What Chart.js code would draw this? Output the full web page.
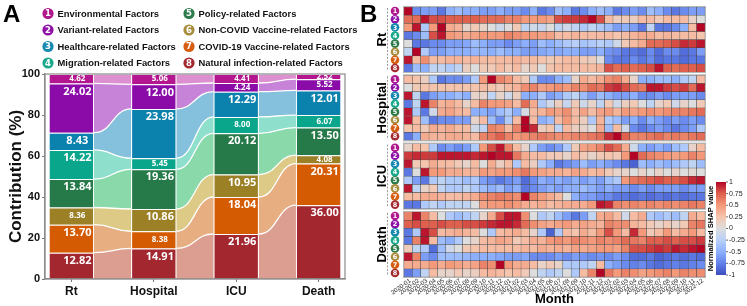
<!DOCTYPE html>
<html>
<head>
<meta charset="utf-8">
<script src="https://cdn.jsdelivr.net/npm/chart.js@4.4.0/dist/chart.umd.min.js"></script>
<style>
  html, body { margin: 0; padding: 0; background: #fff; }
  #wrap { position: relative; width: 747px; height: 306px; overflow: hidden; }
  #panelA { position: absolute; left: 0; top: 0; }
  #panelB { position: absolute; left: 360px; top: 0; }
</style>
</head>
<body>
<div id="wrap">
  <canvas id="panelA" width="360" height="306"></canvas>
  <canvas id="panelB" width="387" height="306"></canvas>
</div>
<script>
// ---- Panel A: contribution (%) of each factor group per outcome ----
const outcomes = ['Rt', 'Hospital', 'ICU', 'Death'];
const factorNames = [
    'Environmental Factors', 'Variant-related Factors', 'Healthcare-related Factors',
    'Migration-related Factors', 'Policy-related Factors', 'Non-COVID Vaccine-related Factors',
    'COVID-19 Vaccine-related Factors', 'Natural infection-related Factors'
];
const environmental = [4.62, 5.06, 4.41, 2.52];
const variant = [24.02, 12.00, 4.24, 5.52];
const healthcare = [8.43, 23.98, 12.29, 12.01];
const migration = [14.22, 5.45, 8.00, 6.07];
const policy = [13.84, 19.36, 20.12, 13.50];
const nonCovidVaccine = [8.36, 10.86, 10.95, 4.08];
const covidVaccine = [13.70, 8.38, 18.04, 20.31];
const naturalInfection = [12.82, 14.91, 21.96, 36.00];
const contributionTicks = [0, 20, 40, 60, 80, 100];

// ---- Panel B: normalized SHAP value per month, rows = factor 1..8 ----
const months = [
    '2020-01', '2020-02', '2020-03', '2020-04', '2020-05', '2020-06', '2020-07', '2020-08', '2020-09', '2020-10', '2020-11', '2020-12',
    '2021-01', '2021-02', '2021-03', '2021-04', '2021-05', '2021-06', '2021-07', '2021-08', '2021-09', '2021-10', '2021-11', '2021-12',
    '2022-01', '2022-02', '2022-03', '2022-04', '2022-05', '2022-06', '2022-07', '2022-08', '2022-09', '2022-10', '2022-11', '2022-12'
];
const rtShap = [
    [1.0,-0.7,-0.6,-0.6,-0.8,-0.5,-0.4,-0.5,-0.5,-0.6,-0.6,-0.5,-0.6,-0.6,-0.7,-0.5,-0.8,-0.7,-0.4,-0.5,-0.8,-0.7,-0.5,-0.4,-0.5,-0.8,-0.7,-0.6,-0.7,-0.4,-0.5,-0.7,-0.8,-0.7,-0.6,-0.6],
    [0.7,0.7,0.95,0.8,0.8,0.75,0.75,0.75,0.75,0.7,0.7,0.7,0.6,0.6,0.5,0.5,0.5,0.45,0.8,0.85,0.85,0.9,1.0,0.8,0.3,0.15,0.2,0.15,0.3,0.3,0.2,0.3,0.3,0.3,0.1,0.0],
    [0.5,0.95,-0.3,0.5,1.0,0.4,0.35,0.1,0.2,0.1,0.0,-0.1,0.0,0.2,-0.2,-0.1,-0.15,0.0,-0.2,-0.1,-0.2,-0.3,-0.2,-0.3,-0.4,-0.6,-0.5,-0.6,-0.8,-0.2,-0.8,-0.8,-0.7,-0.5,0.3,1.0],
    [-0.8,-0.7,-0.4,0.8,0.95,0.5,0.45,0.4,0.45,0.5,0.5,0.5,0.6,0.55,0.5,0.5,0.45,0.45,0.3,0.3,0.35,0.3,0.3,0.3,0.3,0.25,0.3,0.35,0.4,0.4,0.3,0.35,0.3,0.3,0.3,0.25],
    [0.0,-0.8,-0.8,-0.7,-0.7,-0.6,-0.6,-0.55,-0.4,-0.5,-0.6,-0.6,-0.7,-0.6,-0.5,-0.6,-0.4,-0.5,-0.4,-0.3,-0.25,-0.35,-0.3,-0.25,-0.3,-0.1,0.2,0.3,0.4,0.7,0.7,0.75,0.8,0.9,0.85,0.95],
    [-0.2,1.0,-0.3,-0.6,-0.6,-0.5,-0.5,-0.5,-0.45,-0.45,-0.5,-0.4,-0.5,-0.5,-0.6,-0.6,-0.55,-0.5,-0.55,-0.5,-0.5,-0.6,-0.6,-0.5,-0.65,-0.7,-0.8,-0.8,-0.85,-0.7,-0.85,-0.7,-0.7,-0.85,-0.8,-0.6],
    [0.95,0.3,0.55,0.3,0.3,0.35,0.35,0.3,0.35,0.3,0.3,0.3,0.3,0.35,0.3,0.3,0.25,0.2,0.25,0.3,0.3,0.2,0.15,0.0,-0.7,-0.8,-0.8,-0.7,-0.8,-0.7,-0.85,-0.8,-0.8,-0.85,-0.8,-0.8],
    [-0.8,-0.4,-0.5,-0.2,-0.2,-0.3,-0.2,0.15,0.0,0.2,0.2,0.3,0.2,0.3,0.1,0.2,0.0,0.25,0.3,0.3,0.3,0.3,0.3,0.35,0.8,0.7,0.75,0.7,0.75,0.8,0.95,0.75,0.7,0.75,0.75,0.8]
];
const hospitalShap = [
    [0.3,0.25,0.15,-0.3,-0.8,-0.7,-0.7,-0.6,-0.3,0.5,1.0,0.6,0.5,0.3,0.2,-0.3,-0.7,-0.7,-0.5,-0.4,0.1,0.4,0.3,0.4,0.55,0.6,0.4,0.1,-0.5,-0.5,-0.4,-0.4,-0.5,-0.3,-0.2,0.3],
    [0.0,0.2,0.25,0.25,0.25,0.25,0.25,0.25,0.25,0.3,0.25,0.2,0.3,0.35,0.55,0.6,0.45,0.5,0.55,0.5,0.6,0.55,0.7,0.65,0.85,0.9,0.8,0.7,0.65,0.95,0.95,0.85,0.8,0.85,0.7,0.95],
    [0.95,-0.2,-0.8,-0.6,-0.5,-0.5,-0.4,-0.5,0.1,0.1,-0.2,0.1,-0.1,0.15,-0.5,-0.5,-0.3,-0.6,-0.5,-0.3,-0.2,-0.4,-0.6,-0.4,-0.5,-0.6,-0.6,-0.5,-0.7,-0.7,-0.6,-0.7,-0.6,-0.6,-0.6,-0.7],
    [-0.8,-0.2,0.95,0.6,0.35,0.4,0.3,0.1,0.3,0.6,0.5,0.5,0.45,0.3,0.7,0.4,-0.3,-0.1,0.15,-0.15,0.2,-0.1,0.1,-0.2,0.2,-0.1,0.15,0.2,0.0,-0.2,0.1,0.2,-0.1,0.1,0.0,0.2],
    [0.95,-0.3,-0.8,-0.1,0.4,0.45,0.35,0.3,-0.5,-0.5,-0.6,-0.4,-0.3,-0.5,-0.05,0.3,0.35,0.5,0.45,0.55,0.3,0.45,0.3,0.45,0.5,0.35,0.5,0.45,0.5,0.55,0.5,0.55,0.6,0.6,0.65,0.7],
    [0.95,0.3,-0.4,-0.8,-0.7,-0.7,-0.6,-0.6,0.1,0.3,-0.4,-0.7,-0.3,0.3,1.0,0.3,-0.5,-0.4,0.3,0.5,0.3,0.15,-0.3,0.35,-0.3,-0.4,-0.6,-0.5,-0.7,-0.5,-0.6,-0.7,-0.6,-0.7,-0.6,-0.7],
    [0.25,0.3,0.2,0.4,0.35,0.4,0.3,0.3,-0.1,-0.2,0.6,0.55,0.3,0.6,1.0,0.9,0.15,0.25,-0.2,0.3,0.15,0.1,0.0,0.4,-0.4,0.3,-0.1,-0.7,-0.8,-0.7,-0.6,-0.7,-0.8,-0.7,-0.6,-0.3],
    [-0.8,-0.5,0.4,0.35,0.35,0.4,0.4,0.35,0.3,0.6,0.65,0.75,0.6,0.5,0.55,0.6,0.65,0.6,0.55,0.55,0.6,0.6,0.65,0.7,0.9,1.0,0.75,0.6,0.6,0.65,0.7,0.6,0.65,0.6,0.65,0.7]
];
const icuShap = [
    [0.1,0.3,0.25,-0.3,-0.7,-0.6,-0.7,-0.6,-0.3,0.5,0.8,0.95,0.6,0.3,0.1,-0.3,-0.6,-0.7,-0.6,-0.3,0.2,0.45,0.5,0.6,0.8,0.7,0.4,-0.1,-0.5,-0.6,-0.5,-0.6,-0.4,-0.3,0.1,0.3],
    [0.85,0.9,0.85,0.85,0.95,0.95,0.95,0.95,0.9,0.95,1.0,0.95,0.95,0.65,0.4,0.3,0.3,0.2,0.2,0.1,0.3,0.2,0.1,0.2,0.25,0.2,0.5,1.0,0.7,0.6,0.55,0.5,0.45,0.5,0.6,0.5],
    [0.95,0.2,0.25,0.4,0.3,0.3,0.2,0.1,0.3,0.0,0.4,0.15,0.3,-0.3,0.3,0.15,-0.3,-0.5,-0.8,-0.7,-0.6,-0.4,-0.6,-0.5,-0.6,-0.7,-0.8,-0.9,-0.4,-0.5,-0.4,-0.5,-0.4,-0.3,-0.2,-0.4],
    [-0.8,0.0,0.95,0.5,0.5,0.4,0.4,0.35,0.35,0.5,0.45,0.5,0.5,0.55,0.65,0.5,0.45,0.4,0.4,0.35,0.45,0.4,0.3,0.35,0.2,0.1,0.1,0.0,0.1,0.0,0.1,0.0,0.1,0.0,0.05,0.0],
    [-0.3,-0.6,-0.8,-0.3,-0.2,-0.3,-0.3,-0.4,-0.3,-0.6,-0.7,-0.8,-0.7,-0.6,-0.85,-0.7,-0.5,-0.6,-0.5,-0.6,-0.5,-0.6,-0.5,-0.6,-0.4,-0.3,0.5,0.65,0.7,0.75,0.8,0.75,0.75,0.8,0.9,0.95],
    [0.95,-0.2,0.1,0.2,-0.2,-0.3,-0.3,-0.2,-0.3,-0.4,-0.5,-0.4,-0.6,-0.5,-0.8,-0.7,-0.6,-0.5,-0.6,-0.5,-0.5,-0.4,-0.5,-0.6,-0.5,-0.6,-0.6,-0.7,-0.6,-0.7,-0.6,-0.6,-0.6,-0.7,-0.6,-0.6],
    [0.3,0.3,0.4,0.4,0.35,0.3,0.3,0.35,0.4,0.55,0.6,0.65,0.6,0.55,1.0,0.6,0.5,0.4,0.3,0.0,-0.5,-0.6,-0.6,-0.7,-0.7,-0.8,-0.8,-0.85,-0.8,-0.85,-0.8,-0.85,-0.8,-0.85,-0.8,-0.8],
    [-0.8,-0.8,-0.3,-0.2,-0.3,-0.2,-0.2,-0.2,0.0,0.45,0.5,0.5,0.55,0.5,0.4,0.35,0.4,0.3,0.35,0.4,0.4,0.4,0.5,0.95,0.9,0.6,0.55,0.6,0.55,0.6,0.55,0.6,0.55,0.6,0.65,0.6]
];
const deathShap = [
    [0.6,0.95,0.6,0.3,0.0,-0.3,-0.4,-0.3,-0.2,0.1,0.4,0.8,0.95,0.95,0.55,0.0,-0.3,-0.2,-0.4,-0.6,-0.8,-0.6,-0.2,0.4,0.45,0.3,-0.1,0.3,0.4,-0.3,-0.4,-0.3,-0.4,-0.2,0.4,0.3],
    [0.75,0.8,0.75,0.75,0.8,0.75,0.75,0.8,0.8,0.85,0.9,0.95,0.95,0.9,0.7,0.55,0.45,0.4,0.45,0.5,0.4,0.45,0.4,0.35,0.6,0.55,0.55,0.35,0.3,0.2,0.1,0.2,0.1,0.2,0.6,0.65],
    [-0.8,-0.3,0.95,0.8,0.3,0.35,0.4,0.35,0.3,0.0,-0.3,0.3,0.35,0.4,0.3,0.1,-0.3,-0.9,-0.3,0.3,0.25,0.4,0.3,0.5,0.8,0.5,0.3,0.9,0.5,0.2,0.3,0.5,0.3,0.4,0.5,0.3],
    [-0.8,0.6,0.95,0.3,-0.4,-0.5,-0.3,0.0,0.1,0.3,0.35,0.45,0.4,0.2,0.3,0.4,0.35,0.5,0.55,0.5,0.6,0.55,0.5,0.6,0.55,0.6,0.7,0.65,0.6,0.75,0.75,0.8,0.75,0.8,0.8,0.85],
    [0.2,-0.2,-0.3,-0.85,-0.4,-0.1,0.0,0.2,0.25,0.3,0.3,0.3,0.3,0.3,0.35,0.3,0.4,0.35,0.4,0.35,0.45,0.4,0.45,0.5,0.5,0.45,0.6,0.8,0.8,0.85,0.9,0.85,0.95,0.9,0.95,1.0],
    [0.95,0.6,-0.6,-0.7,-0.4,-0.4,-0.4,-0.45,-0.5,-0.5,-0.5,-0.55,-0.6,-0.6,-0.55,-0.7,-0.7,-0.7,-0.6,-0.7,-0.6,-0.65,-0.7,-0.65,-0.7,-0.6,-0.7,-0.85,-0.85,-0.8,-0.9,-0.85,-0.8,-0.85,-0.8,-0.85],
    [0.4,0.4,0.4,0.5,0.4,0.5,0.45,0.4,0.45,0.6,0.55,1.0,0.5,0.4,0.4,0.3,0.1,0.2,0.1,-0.3,-0.3,-0.3,-0.2,0.3,-0.5,-0.6,-0.7,-0.75,-0.7,-0.8,-0.85,-0.8,-0.75,-0.8,-0.75,-0.7],
    [-0.8,-0.6,-0.2,0.3,0.1,0.1,0.2,0.1,0.15,0.3,0.35,0.3,0.25,0.3,0.2,0.0,-0.2,-0.3,-0.2,0.0,-0.3,0.3,0.6,1.0,0.65,0.5,0.6,0.55,0.45,0.5,0.55,0.6,0.5,0.6,0.55,0.55]
];
const colorbarTicks = [1, 0.75, 0.5, 0.25, 0, -0.25, -0.5, -0.75, -1];

// Colours
const factorColors = ['#b3168e', '#8b0ba8', '#0b82ad', '#0aa68b', '#267a49', '#9b8026', '#d55b02', '#a2272f'];
const legendColors = ['#b0178c', '#8e12a8', '#1788b0', '#19a98c', '#2c7b4a', '#a98d3e', '#d75e10', '#a32a30'];
const flowColors = ['#dc90d0', '#c783d8', '#85c0dc', '#8fdfcd', '#89d9ab', '#dcca86', '#e7ae82', '#dc9e90'];
const coolwarmStops = [
    [59, 76, 192], [98, 130, 234], [141, 176, 254], [184, 208, 249], [221, 221, 221],
    [245, 196, 173], [244, 154, 123], [222, 96, 77], [180, 4, 38]
];

const boldFont = '"Liberation Sans", Arial, sans-serif';
const labelFont = '"Open Sans", "DejaVu Sans", sans-serif';

function coolwarm(v) {
    const t = Math.max(0, Math.min(1, (v + 1) / 2)) * (coolwarmStops.length - 1);
    const i = Math.min(Math.floor(t), coolwarmStops.length - 2);
    const f = t - i;
    const a = coolwarmStops[i], b = coolwarmStops[i + 1];
    const c = a.map((x, k) => Math.round(x + (b[k] - x) * f));
    return `rgb(${c[0]},${c[1]},${c[2]})`;
}

function circledNumber(ctx, x, y, r, n, color, size) {
    ctx.beginPath();
    ctx.arc(x, y, r, 0, Math.PI * 2);
    ctx.fillStyle = color;
    ctx.fill();
    ctx.fillStyle = '#fff';
    ctx.font = `bold ${size}px "DejaVu Sans", sans-serif`;
    ctx.textAlign = 'center';
    ctx.textBaseline = 'middle';
    ctx.fillText(String(n), x, y + 0.5);
}

// ================= Panel A =================
const shares = [environmental, variant, healthcare, migration, policy, nonCovidVaccine, covidVaccine, naturalInfection];

const datasetsA = shares.map((vals, f) => ({
    label: factorNames[f],
    data: vals.map((v, i) => ({ x: i, y: v })),
    backgroundColor: factorColors[f],
    borderColor: 'rgba(255,255,255,0.75)',
    borderWidth: { top: 1, left: 1, right: 1, bottom: 0 },
    borderSkipped: false,
    barPercentage: 0.55,
    categoryPercentage: 1,
    factor: f
})).reverse();   // stack from natural infection (bottom) up to environmental (top)

// flows between neighbouring bars
const flowPlugin = {
    id: 'flows',
    beforeDatasetsDraw(chart) {
        const ctx = chart.ctx;
        const metas = chart.getSortedVisibleDatasetMetas();
        ctx.save();
        const edges = (a, b) => {
            const x0 = a.x + a.width / 2, x1 = b.x - b.width / 2;
            return [x0, x1, (x0 + x1) / 2];
        };
        metas.forEach(meta => {
            const f = chart.data.datasets[meta.index].factor;
            for (let i = 0; i < meta.data.length - 1; i++) {
                const a = meta.data[i], b = meta.data[i + 1];
                const [x0, x1, xm] = edges(a, b);
                ctx.beginPath();
                ctx.moveTo(x0, a.y);
                ctx.bezierCurveTo(xm, a.y, xm, b.y, x1, b.y);
                ctx.lineTo(x1, b.base);
                ctx.bezierCurveTo(xm, b.base, xm, a.base, x0, a.base);
                ctx.closePath();
                ctx.fillStyle = flowColors[f];
                ctx.fill();
            }
        });
        ctx.strokeStyle = '#fff';
        ctx.lineWidth = 1.3;
        metas.forEach(meta => {
            for (let i = 0; i < meta.data.length - 1; i++) {
                const a = meta.data[i], b = meta.data[i + 1];
                const [x0, x1, xm] = edges(a, b);
                ctx.beginPath();
                ctx.moveTo(x0, a.y);
                ctx.bezierCurveTo(xm, a.y, xm, b.y, x1, b.y);
                ctx.stroke();
            }
        });
        ctx.restore();
    }
};

const segmentLabels = {
    id: 'segmentLabels',
    afterDatasetsDraw(chart) {
        const ctx = chart.ctx;
        ctx.save();
        ctx.fillStyle = '#fff';
        ctx.textAlign = 'center';
        ctx.textBaseline = 'middle';
        chart.getSortedVisibleDatasetMetas().forEach(meta => {
            const vals = chart.data.datasets[meta.index].data;
            meta.data.forEach((bar, i) => {
                const v = vals[i].y;
                const small = v < 8.4;
                ctx.font = `bold ${small ? 8 : 11}px ${labelFont}`;
                const ty = Math.min(bar.y + 8, (bar.y + bar.base) / 2);
                ctx.fillText(v.toFixed(2), bar.x + 6, ty);
            });
        });
        ctx.restore();
    }
};

const panelADecor = {
    id: 'panelADecor',
    afterDraw(chart) {
        const ctx = chart.ctx;
        const area = chart.chartArea;
        ctx.save();
        // plot frame
        ctx.strokeStyle = '#8a8a8a';
        ctx.lineWidth = 1.2;
        ctx.strokeRect(area.left, area.top, area.right - area.left, area.bottom - area.top);
        // panel letter
        ctx.fillStyle = '#000';
        ctx.font = `bold 24px ${boldFont}`;
        ctx.textAlign = 'left';
        ctx.textBaseline = 'alphabetic';
        ctx.fillText('A', 3, 22);
        // legend (two columns of four)
        const colX = [48, 189];
        const rowY = [13.5, 30, 46.5, 63];
        factorNames.forEach((name, f) => {
            const cx = colX[Math.floor(f / 4)], cy = rowY[f % 4];
            circledNumber(ctx, cx, cy, 5.6, f + 1, legendColors[f], 8.5);
            ctx.fillStyle = '#111';
            ctx.font = `bold 9.4px ${boldFont}`;
            ctx.textAlign = 'left';
            ctx.textBaseline = 'middle';
            ctx.fillText(name, cx + 9.5, cy + 0.5);
        });
        ctx.restore();
    }
};

new Chart(document.getElementById('panelA'), {
    type: 'bar',
    data: { datasets: datasetsA },
    options: {
        responsive: false,
        animation: false,
        devicePixelRatio: 1,
        layout: { padding: { top: 74, right: 15, left: 0, bottom: 0 } },
        plugins: { legend: { display: false }, tooltip: { enabled: false } },
        scales: {
            x: {
                type: 'linear',
                stacked: true,
                offset: false,
                min: -0.32,
                max: 3.32,
                afterBuildTicks: s => { s.ticks = outcomes.map((o, i) => ({ value: i })); },
                afterFit: s => { s.height = 27; },
                ticks: {
                    callback: v => outcomes[v],
                    font: { family: boldFont, size: 12, weight: 'bold' },
                    color: '#111',
                    padding: 2,
                    maxRotation: 0
                },
                grid: { drawOnChartArea: false, tickLength: 3, color: '#777', offset: false },
                border: { color: '#8a8a8a', width: 1.2 }
            },
            y: {
                stacked: true,
                min: 0,
                max: 100,
                afterBuildTicks: s => { s.ticks = contributionTicks.map(v => ({ value: v })); },
                afterFit: s => { s.width = 45; },
                ticks: { font: { family: boldFont, size: 11, weight: 'bold' }, color: '#111', padding: 2 },
                grid: { drawOnChartArea: false, tickLength: 3, color: '#777' },
                border: { color: '#8a8a8a', width: 1.2 },
                title: {
                    display: true,
                    text: 'Contribution (%)',
                    font: { family: boldFont, size: 17, weight: 'bold' },
                    color: '#111',
                    padding: { top: 6, bottom: 2 }
                }
            }
        }
    },
    plugins: [flowPlugin, segmentLabels, panelADecor]
});

// ================= Panel B =================
const groupNames = ['Rt', 'Hospital', 'ICU', 'Death'];
const heatGroups = [rtShap, hospitalShap, icuShap, deathShap];
const rowGap = 0.4;
const groupSpan = 8 + rowGap;

const datasetsB = [];
heatGroups.forEach((rows, g) => rows.forEach((vals, r) => {
    const pos = g * groupSpan + r;
    datasetsB.push({
        data: vals.map(() => [pos, pos + 1]),
        backgroundColor: vals.map(coolwarm),
        borderColor: 'rgba(40,40,40,0.75)',
        borderWidth: 0.5,
        borderSkipped: false,
        grouped: false,
        barPercentage: 1,
        categoryPercentage: 1
    });
}));

const panelBDecor = {
    id: 'panelBDecor',
    afterDraw(chart) {
        const ctx = chart.ctx;
        const area = chart.chartArea;
        const xs = chart.scales.x, ys = chart.scales.y;
        ctx.save();

        heatGroups.forEach((rows, g) => {
            const top = ys.getPixelForValue(g * groupSpan);
            const bottom = ys.getPixelForValue(g * groupSpan + 8);
            // light frame around each block
            ctx.strokeStyle = '#b5b5b5';
            ctx.lineWidth = 1;
            ctx.strokeRect(area.left - 0.5, top - 0.5, area.right - area.left + 1, bottom - top + 1);
            // dashed bracket
            ctx.strokeStyle = '#9a9a9a';
            ctx.setLineDash([2, 1.5]);
            ctx.beginPath();
            ctx.moveTo(area.left - 16.5, top + 1);
            ctx.lineTo(area.left - 16.5, bottom - 1);
            ctx.stroke();
            ctx.setLineDash([]);
            // group label
            ctx.save();
            ctx.translate(area.left - 22, (top + bottom) / 2);
            ctx.rotate(-Math.PI / 2);
            ctx.fillStyle = '#000';
            ctx.font = `bold 13px ${boldFont}`;
            ctx.textAlign = 'center';
            ctx.textBaseline = 'middle';
            ctx.fillText(groupNames[g], 0, 0);
            ctx.restore();
            // circled factor numbers
            rows.forEach((vals, r) => {
                const cy = ys.getPixelForValue(g * groupSpan + r + 0.5);
                circledNumber(ctx, area.left - 9, cy, 4.3, r + 1, legendColors[r], 6.5);
            });
        });

        // month tick labels
        ctx.fillStyle = '#222';
        ctx.font = `6.2px ${boldFont}`;
        ctx.textAlign = 'right';
        ctx.textBaseline = 'middle';
        months.forEach((m, i) => {
            ctx.save();
            ctx.translate(xs.getPixelForValue(i) + 2, area.bottom + 3);
            ctx.rotate(-Math.PI / 5);
            ctx.fillText(m, 0, 0);
            ctx.restore();
        });
        ctx.fillStyle = '#000';
        ctx.font = `bold 13px ${boldFont}`;
        ctx.textAlign = 'center';
        ctx.textBaseline = 'middle';
        ctx.fillText('Month', (area.left + area.right) / 2, 299);

        // colour bar
        const cbL = 356, cbW = 10, cbT = 182, cbB = 275;
        const grad = ctx.createLinearGradient(0, cbB, 0, cbT);
        coolwarmStops.forEach((c, k) => grad.addColorStop(k / (coolwarmStops.length - 1), `rgb(${c[0]},${c[1]},${c[2]})`));
        ctx.fillStyle = grad;
        ctx.fillRect(cbL, cbT, cbW, cbB - cbT);
        ctx.fillStyle = '#222';
        ctx.strokeStyle = '#444';
        ctx.lineWidth = 0.8;
        ctx.font = `7px ${boldFont}`;
        ctx.textAlign = 'left';
        colorbarTicks.forEach(v => {
            const ty = cbT + (1 - v) / 2 * (cbB - cbT);
            ctx.beginPath();
            ctx.moveTo(cbL + cbW, ty);
            ctx.lineTo(cbL + cbW + 2, ty);
            ctx.stroke();
            ctx.fillText(String(v), cbL + cbW + 3, ty);
        });
        ctx.save();
        ctx.translate(cbL - 5, (cbT + cbB) / 2);
        ctx.rotate(-Math.PI / 2);
        ctx.fillStyle = '#000';
        ctx.font = `bold 7.6px ${boldFont}`;
        ctx.textAlign = 'center';
        ctx.fillText('Normalized SHAP value', 0, 0);
        ctx.restore();

        // panel letter
        ctx.fillStyle = '#000';
        ctx.font = `bold 24px ${boldFont}`;
        ctx.textAlign = 'left';
        ctx.textBaseline = 'alphabetic';
        ctx.fillText('B', 0, 22);
        ctx.restore();
    }
};

new Chart(document.getElementById('panelB'), {
    type: 'bar',
    data: { labels: months, datasets: datasetsB },
    options: {
        responsive: false,
        animation: false,
        devicePixelRatio: 1,
        layout: { padding: { top: 7, right: 42, left: 44, bottom: 29 } },
        plugins: { legend: { display: false }, tooltip: { enabled: false } },
        scales: {
            x: { type: 'category', display: false, offset: true },
            y: { type: 'linear', display: false, min: 0, max: 4 * 8 + 3 * rowGap, reverse: true }
        }
    },
    plugins: [panelBDecor]
});
</script>
</body>
</html>
